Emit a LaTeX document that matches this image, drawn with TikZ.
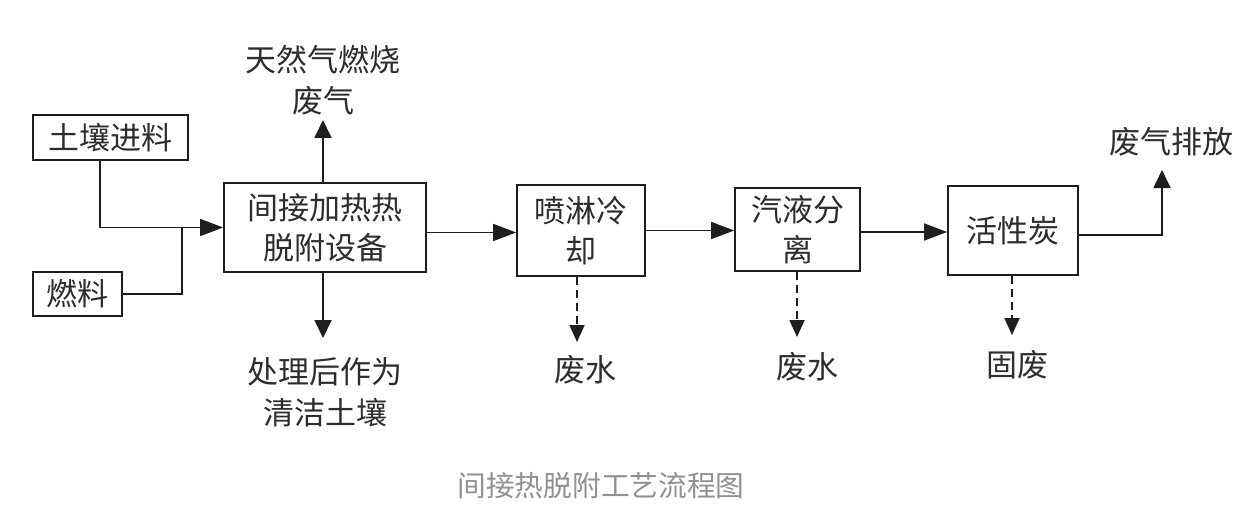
\documentclass[tikz,border=0pt]{standalone}
\usepackage{fontspec}
\setmainfont{Noto Sans CJK SC}
\usetikzlibrary{arrows.meta}
\definecolor{txt}{RGB}{45,45,45}
\definecolor{ln}{RGB}{30,30,30}
\definecolor{cap}{RGB}{145,145,145}
\begin{document}
\begin{tikzpicture}[x=1pt,y=-1pt,
  box/.style={draw=ln, line width=1.8pt, inner sep=0pt, align=center,
    font=\fontsize{31}{40}\selectfont, text=txt},
  lbl/.style={align=center, font=\fontsize{31}{41}\selectfont, text=txt, inner sep=0pt},
  flow/.style={draw=ln, line width=1.8pt, -{Triangle[length=23pt,width=17pt]}},
  vflow/.style={draw=ln, line width=1.8pt, -{Triangle[length=18pt,width=17pt]}},
  wflow/.style={draw=ln, line width=1.8pt, dash pattern=on 8pt off 5pt,
    -{Triangle[length=17pt,width=15pt]}},
]
\useasboundingbox (0,0) rectangle (1239,516);
\fill[white] (0,0) rectangle (1239,516);

% boxes
\node[box, minimum width=155pt, minimum height=45pt] (soil) at (110.5,137.5) {土壤进料};
\node[box, minimum width=89pt, minimum height=44pt] (fuel) at (77.5,294) {燃料};
\node[box, minimum width=202pt, minimum height=89pt] (main) at (325,227.5) {间接加热热\\脱附设备};
\node[box, minimum width=128pt, minimum height=91pt] (spray) at (581,230.5) {喷淋冷\\却};
\node[box, minimum width=125pt, minimum height=83pt] (sep) at (797.5,229.5) {汽液分\\离};
\node[box, minimum width=130pt, minimum height=89pt] (carbon) at (1013,230.5) {活性炭};

% labels
\node[lbl] (gas) at (323,80) {天然气燃烧\\废气};
\node[lbl] (clean) at (325,392.5) {处理后作为\\清洁土壤};
\node[lbl] (ww1) at (585,370) {废水};
\node[lbl] (ww2) at (807,367) {废水};
\node[lbl] (solid) at (1017,365) {固废};
\node[lbl] (exh) at (1171,142) {废气排放};
\node[font=\fontsize{28.7}{30}\selectfont, text=cap, inner sep=0pt] (title) at (601,486) {间接热脱附工艺流程图};

% coordinates for free ends
\coordinate (j) at (182,227.5);
\coordinate (gasTip) at (323,120);
\coordinate (cleanTip) at (323,338);
\coordinate (ww1Tip) at (577,342);
\coordinate (ww2Tip) at (797,337);
\coordinate (solidTip) at (1012,335);
\coordinate (exhCorner) at (1162,235);
\coordinate (exhTip) at (1162,170);

% connectors
\draw[flow] ([xshift=-10.5pt]soil.south) |- (main.west);
\draw[draw=ln, line width=1.8pt] (fuel.east) -| (j);
\draw[vflow] (main.north -| gasTip) -- (gasTip);
\draw[vflow] (main.south -| cleanTip) -- (cleanTip);
\draw[flow] ([yshift=-5pt]main.east) -- ([yshift=-5pt]main.east -| spray.west);
\draw[flow] (spray.east) -- (spray.east -| sep.west);
\draw[flow] ([yshift=-2.5pt]sep.east) -- ([yshift=-2.5pt]sep.east -| carbon.west);
\draw[wflow] (spray.south -| ww1Tip) -- (ww1Tip);
\draw[wflow] (sep.south -| ww2Tip) -- (ww2Tip);
\draw[wflow] (carbon.south -| solidTip) -- (solidTip);
\draw[vflow] ([yshift=-4.5pt]carbon.east) -- (exhCorner) -- (exhTip);
\end{tikzpicture}
\end{document}
